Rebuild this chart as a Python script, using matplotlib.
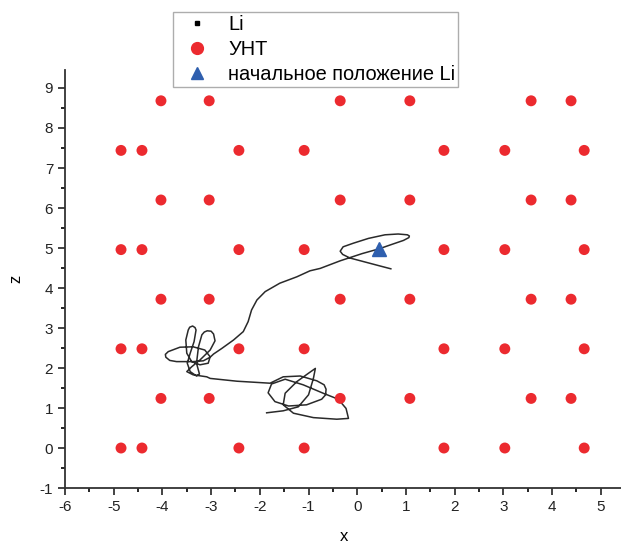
import numpy as np
import matplotlib.pyplot as plt
from matplotlib.lines import Line2D
from matplotlib.ticker import MultipleLocator

plt.rcParams['font.family'] = ['Liberation Sans', 'DejaVu Sans']
plt.rcParams['axes.unicode_minus'] = False

# nanotube (УНТ) grid positions
cnt_x_even = [-4.85, -4.42, -2.43, -1.09, 1.78, 3.03, 4.66]
cnt_x_odd = [-4.03, -3.04, -0.35, 1.08, 3.57, 4.39]
cnt_z_even = [0.0, 2.48, 4.96, 7.44]
cnt_z_odd = [1.24, 3.72, 6.2, 8.68]

# Li trajectory
li_x = [0.69, 0.47, 0.16, -0.15, -0.30, -0.35, -0.29, -0.08, 0.23, 0.57, 0.84, 1.03, 1.07, 1.06,
        0.95, 0.71, 0.45, 0.10, -0.35, -0.76, -0.97, -1.24, -1.59, -1.89, -2.06,
        -2.17, -2.24, -2.34, -2.54, -2.78, -2.95,
        -3.02, -3.16, -3.37, -3.71, -3.85, -3.93, -3.94, -3.88, -3.64, -3.37, -3.13, -3.02, -3.06,
        -3.23, -3.40, -3.50, -3.52, -3.47, -3.44, -3.38, -3.33, -3.31, -3.35, -3.43, -3.49, -3.43,
        -3.30, -3.24, -3.30, -3.26, -3.19, -3.14, -3.08, -3.00, -2.95, -2.92, -3.02, -3.23, -3.40,
        -3.50, -3.37, -3.09,
        -3.02, -2.47, -2.06, -1.79,
        -1.52, -1.17, -0.83, -0.68, -0.64, -0.65, -0.73, -1.04, -1.41, -1.69, -1.83, -1.76, -1.48,
        -1.11, -0.70, -0.39, -0.23, -0.18, -0.42, -0.90, -1.31, -1.52, -1.48, -1.24,
        -1.00, -0.86, -0.90, -1.00, -1.21, -1.52, -1.86]
li_z = [4.48, 4.55, 4.65, 4.75, 4.84, 4.92, 5.03, 5.12, 5.24, 5.33, 5.35, 5.33, 5.30, 5.26,
        5.19, 5.09, 4.98, 4.86, 4.68, 4.49, 4.43, 4.28, 4.12, 3.91, 3.70,
        3.45, 3.16, 2.91, 2.70, 2.49, 2.35,
        2.27, 2.18, 2.16, 2.16, 2.19, 2.27, 2.34, 2.41, 2.52, 2.53, 2.45, 2.28, 2.12,
        2.08, 2.16, 2.37, 2.70, 2.95, 3.02, 3.05, 3.01, 2.95, 2.66, 2.37, 2.12, 1.91,
        1.80, 1.85, 2.12, 2.53, 2.83, 2.90, 2.93, 2.92, 2.85, 2.68, 2.45, 2.20, 2.03,
        1.91, 1.83, 1.78,
        1.74, 1.67, 1.64, 1.62,
        1.78, 1.80, 1.68, 1.58, 1.47, 1.33, 1.22, 1.08, 1.05, 1.16, 1.38, 1.60, 1.72,
        1.58, 1.37, 1.22, 0.99, 0.74, 0.72, 0.76, 0.87, 1.08, 1.37, 1.66,
        1.87, 1.99, 1.74, 1.33, 1.03, 0.93, 0.88]

li_start = (0.45, 4.98)

cnt_x, cnt_z = [], []
for z in cnt_z_even:
    cnt_x += cnt_x_even
    cnt_z += [z] * len(cnt_x_even)
for z in cnt_z_odd:
    cnt_x += cnt_x_odd
    cnt_z += [z] * len(cnt_x_odd)

fig = plt.figure(figsize=(6.21, 5.46), dpi=100)
ax = fig.add_axes([0.1047, 0.1062, 0.898, 0.7656])

ax.plot(li_x, li_z, color='#2a2a2a', lw=1.1, solid_joinstyle='round', zorder=2)
ax.scatter(cnt_x, cnt_z, s=62, color='#ec2a2f', edgecolors='none', zorder=3)
ax.plot([li_start[0]], [li_start[1]], marker='^', ms=10, color='#2f5fae', ls='none', zorder=4)

ax.set_xlim(-6, 5.45)
ax.set_ylim(-1, 9.45)
ax.xaxis.set_major_locator(MultipleLocator(1))
ax.xaxis.set_minor_locator(MultipleLocator(0.5))
ax.yaxis.set_major_locator(MultipleLocator(1))
ax.yaxis.set_minor_locator(MultipleLocator(0.5))
ax.tick_params(which='major', direction='out', length=5, width=1.2, labelsize=11, colors='#222222')
ax.tick_params(which='minor', direction='out', length=3, width=1.2)
for s in ['top', 'right']:
    ax.spines[s].set_visible(False)
for s in ['left', 'bottom']:
    ax.spines[s].set_linewidth(1.3)
    ax.spines[s].set_color('#333333')

ax.set_xlabel('x', fontsize=12, labelpad=11)
ax.set_ylabel('z', fontsize=12, labelpad=12)

handles = [
    Line2D([], [], marker='s', ms=2.5, color='black', ls='none'),
    Line2D([], [], marker='o', ms=8.5, color='#ec2a2f', ls='none'),
    Line2D([], [], marker='^', ms=8.5, color='#2f5fae', ls='none'),
]
labels = ['Li', 'УНТ', 'начальное положение Li']
leg = fig.legend(handles, labels, loc='upper left', bbox_to_anchor=(0.279, 0.978),
                 fontsize=14.4, frameon=True, fancybox=False, edgecolor='#999999',
                 handletextpad=0.5, borderpad=0.15, labelspacing=0.3, handlelength=2.1,
                 borderaxespad=0)
leg.get_frame().set_linewidth(1.0)

fig.savefig('out.png', dpi=100)
